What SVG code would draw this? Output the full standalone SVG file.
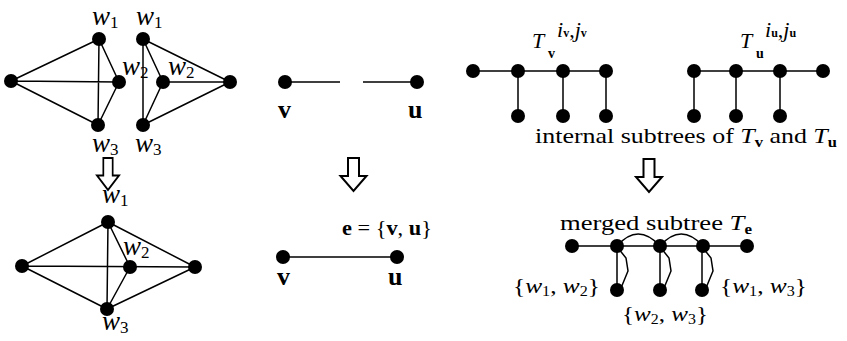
<svg xmlns="http://www.w3.org/2000/svg" width="847" height="341" viewBox="0 0 847 341">
<style>
.e{stroke:#000;stroke-width:1.5;fill:none}
.n{fill:#000}
.ar{fill:#fff;stroke:#000;stroke-width:2;stroke-linejoin:miter}
text{font-family:"Liberation Serif","DejaVu Serif",serif;font-size:22px;fill:#000}
.w{font-style:italic}
.b{font-weight:bold}
.s{font-size:14px}
.lw{font-size:27px}
.lw .s{font-size:17px}
.lb{font-size:26px;font-weight:bold}
</style>
<defs>
<circle id="dot" r="7"/>
<path id="arrow" d="M-5.5,0 H5.5 V18 H13 L0,33 L-13,18 H-5.5 Z"/>
</defs>
<g id="connectors">
<path class="e" d="M11,81 L99,39 M11,81 L119,82 M11,81 L98,125 M99,39 L98,125 M99,39 L119,82 M119,82 L98,125"/>
<path class="e" d="M143,39 L143,125 M143,39 L163,82 M143,39 L230,82 M163,82 L230,82 M163,82 L143,125 M143,125 L230,82"/>
<path class="e" d="M22,266 L108,222 M22,266 L195,267 M22,266 L107,309 M108,222 L107,309 M108,222 L130,267 M108,222 L195,267 M130,267 L107,309 M107,309 L195,267"/>
<path class="e" d="M285,82 H340 M363,82 H417 M283,257 H397"/>
<path class="e" d="M473,71 H606 M518,71 V116 M563,71 V116 M606,71 V116"/>
<path class="e" d="M694,71 H823 M694,71 V116 M736,71 V116 M780,71 V116"/>
<path class="e" d="M572,246 H747 M617,246 V290 M660,246 V290 M702,246 V290"/>
<path class="e" d="M617,246 Q638,222 660,246 Q681,222 703,246"/>
<path class="e" d="M618,248 L626,258 L628,271 L621,288 M661,248 L669,258 L671,271 L664,288 M703,248 L711,258 L713,271 L706,288"/>
</g>
<g id="arrows">
<use href="#arrow" class="ar" transform="translate(108,158) scale(0.85,0.97)"/>
<use href="#arrow" class="ar" transform="translate(353.5,158)"/>
<use href="#arrow" class="ar" transform="translate(649,159)"/>
</g>
<g id="n-l1"><use href="#dot" class="n" x="11" y="81"/></g>
<g id="n-lw1"><use href="#dot" class="n" x="99" y="39"/></g>
<g id="n-lw2"><use href="#dot" class="n" x="119" y="82"/></g>
<g id="n-lw3"><use href="#dot" class="n" x="98" y="125"/></g>
<g id="n-rw1"><use href="#dot" class="n" x="143" y="39"/></g>
<g id="n-rw2"><use href="#dot" class="n" x="163" y="82"/></g>
<g id="n-r1"><use href="#dot" class="n" x="230" y="82"/></g>
<g id="n-rw3"><use href="#dot" class="n" x="143" y="125"/></g>
<g id="n-cl"><use href="#dot" class="n" x="22" y="266"/></g>
<g id="n-cw1"><use href="#dot" class="n" x="108" y="222"/></g>
<g id="n-cw2"><use href="#dot" class="n" x="130" y="267"/></g>
<g id="n-cr"><use href="#dot" class="n" x="195" y="267"/></g>
<g id="n-cw3"><use href="#dot" class="n" x="107" y="309"/></g>
<g id="n-v1"><use href="#dot" class="n" x="285" y="82"/></g>
<g id="n-u1"><use href="#dot" class="n" x="417" y="82"/></g>
<g id="n-v2"><use href="#dot" class="n" x="283" y="257"/></g>
<g id="n-u2"><use href="#dot" class="n" x="397" y="257"/></g>
<g id="tree-v">
<use href="#dot" class="n" x="473" y="71"/><use href="#dot" class="n" x="518" y="71"/><use href="#dot" class="n" x="563" y="71"/><use href="#dot" class="n" x="606" y="71"/>
<use href="#dot" class="n" x="518" y="116"/><use href="#dot" class="n" x="563" y="116"/><use href="#dot" class="n" x="606" y="116"/>
</g>
<g id="tree-u">
<use href="#dot" class="n" x="694" y="71"/><use href="#dot" class="n" x="736" y="71"/><use href="#dot" class="n" x="780" y="71"/><use href="#dot" class="n" x="823" y="71"/>
<use href="#dot" class="n" x="694" y="116"/><use href="#dot" class="n" x="736" y="116"/><use href="#dot" class="n" x="780" y="116"/>
</g>
<g id="tree-e">
<use href="#dot" class="n" x="572" y="246"/><use href="#dot" class="n" x="617" y="246"/><use href="#dot" class="n" x="660" y="246"/><use href="#dot" class="n" x="703" y="246"/><use href="#dot" class="n" x="747" y="246"/>
<use href="#dot" class="n" x="617" y="290"/><use href="#dot" class="n" x="660" y="290"/><use href="#dot" class="n" x="702" y="290"/>
</g>
<g id="labels">
<text class="lw" x="92" y="25"><tspan class="w">w</tspan><tspan class="s" dy="3">1</tspan></text>
<text class="lw" x="136" y="25"><tspan class="w">w</tspan><tspan class="s" dy="3">1</tspan></text>
<text class="lw" x="122" y="75"><tspan class="w">w</tspan><tspan class="s" dy="3">2</tspan></text>
<text class="lw" x="168" y="75"><tspan class="w">w</tspan><tspan class="s" dy="3">2</tspan></text>
<text class="lw" x="92" y="152"><tspan class="w">w</tspan><tspan class="s" dy="3">3</tspan></text>
<text class="lw" x="135" y="152"><tspan class="w">w</tspan><tspan class="s" dy="3">3</tspan></text>
<text class="lw" x="102" y="203"><tspan class="w">w</tspan><tspan class="s" dy="3">1</tspan></text>
<text class="lw" x="123" y="255"><tspan class="w">w</tspan><tspan class="s" dy="3">2</tspan></text>
<text class="lw" x="102" y="330"><tspan class="w">w</tspan><tspan class="s" dy="3">3</tspan></text>
<text class="lb" x="278" y="118">v</text>
<text class="lb" x="408" y="118">u</text>
<text x="342" y="235" font-size="24" textLength="90" lengthAdjust="spacingAndGlyphs"><tspan class="b">e</tspan> = {<tspan class="b">v</tspan>, <tspan class="b">u</tspan>}</text>
<text class="lb" x="277" y="285">v</text>
<text class="lb" x="388" y="285">u</text>
<text x="532" y="48" font-size="25" class="w">T</text>
<text x="548" y="58" class="s b">v</text>
<text x="557" y="37" font-size="15"><tspan class="w">i</tspan><tspan class="b" font-size="12">v</tspan><tspan>,</tspan><tspan class="w">j</tspan><tspan class="b" font-size="12">v</tspan></text>
<text x="740" y="48" font-size="25" class="w">T</text>
<text x="756" y="58" class="s b">u</text>
<text x="765" y="37" font-size="15"><tspan class="w">i</tspan><tspan class="b" font-size="12">u</tspan><tspan>,</tspan><tspan class="w">j</tspan><tspan class="b" font-size="12">u</tspan></text>
<text x="535" y="143" textLength="302" lengthAdjust="spacingAndGlyphs">internal subtrees of <tspan class="w">T</tspan><tspan class="s b" dy="4">v</tspan><tspan dy="-4"> and </tspan><tspan class="w">T</tspan><tspan class="s b" dy="4">u</tspan></text>
<text x="560" y="230" textLength="192" lengthAdjust="spacingAndGlyphs">merged subtree <tspan class="w">T</tspan><tspan class="s b" dy="4">e</tspan></text>
<text x="513" y="293" font-size="24" textLength="87" lengthAdjust="spacingAndGlyphs">{<tspan class="w">w</tspan><tspan class="s" dy="3">1</tspan><tspan dy="-3">, </tspan><tspan class="w">w</tspan><tspan class="s" dy="3">2</tspan><tspan dy="-3">}</tspan></text>
<text x="720" y="293" font-size="24" textLength="87" lengthAdjust="spacingAndGlyphs">{<tspan class="w">w</tspan><tspan class="s" dy="3">1</tspan><tspan dy="-3">, </tspan><tspan class="w">w</tspan><tspan class="s" dy="3">3</tspan><tspan dy="-3">}</tspan></text>
<text x="622" y="321" font-size="24" textLength="86" lengthAdjust="spacingAndGlyphs">{<tspan class="w">w</tspan><tspan class="s" dy="3">2</tspan><tspan dy="-3">, </tspan><tspan class="w">w</tspan><tspan class="s" dy="3">3</tspan><tspan dy="-3">}</tspan></text>
</g>
</svg>
